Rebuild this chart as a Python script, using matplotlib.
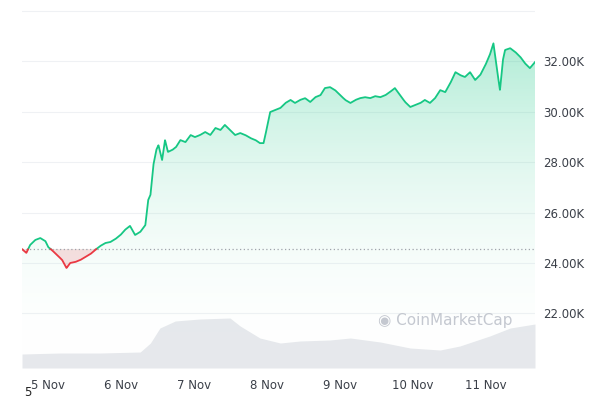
import matplotlib
matplotlib.use("Agg")
import matplotlib.pyplot as plt
import numpy as np
from matplotlib.colors import LinearSegmentedColormap

days = [4.64,4.70,4.75,4.82,4.89,4.96,5.00,5.05,5.12,5.19,5.25,5.30,5.37,5.44,5.51,5.58,5.64,5.71,5.78,5.85,5.92,5.99,6.05,6.12,6.19,6.26,6.33,6.37,6.40,6.44,6.48,6.51,6.56,6.60,6.64,6.70,6.75,6.81,6.88,6.95,7.01,7.08,7.15,7.22,7.29,7.36,7.42,7.49,7.56,7.63,7.70,7.77,7.84,7.90,7.95,7.99,8.04,8.11,8.18,8.25,8.32,8.38,8.45,8.52,8.59,8.66,8.73,8.79,8.86,8.93,9.00,9.07,9.14,9.21,9.27,9.34,9.41,9.48,9.55,9.62,9.68,9.75,9.82,9.89,9.96,10.03,10.10,10.16,10.23,10.30,10.37,10.44,10.51,10.58,10.64,10.71,10.78,10.85,10.92,10.99,11.05,11.10,11.15,11.19,11.23,11.26,11.33,11.40,11.47,11.53,11.60,11.67]
price = [24.55,24.40,24.71,24.91,24.99,24.87,24.63,24.51,24.32,24.12,23.80,24.00,24.04,24.12,24.24,24.36,24.51,24.67,24.79,24.83,24.95,25.11,25.31,25.47,25.11,25.23,25.50,26.50,26.69,27.88,28.48,28.67,28.08,28.87,28.40,28.48,28.59,28.87,28.79,29.07,28.99,29.07,29.19,29.07,29.35,29.27,29.47,29.27,29.07,29.15,29.07,28.95,28.87,28.75,28.75,29.27,29.98,30.06,30.14,30.34,30.46,30.34,30.46,30.53,30.38,30.57,30.65,30.93,30.97,30.85,30.65,30.46,30.34,30.46,30.53,30.57,30.53,30.61,30.57,30.65,30.77,30.93,30.65,30.38,30.18,30.26,30.34,30.46,30.34,30.53,30.85,30.77,31.13,31.56,31.45,31.37,31.56,31.25,31.45,31.84,32.24,32.71,31.64,30.85,32.04,32.44,32.51,32.36,32.16,31.92,31.72,31.96]
base_price = 24.55
vol_days = [4.64,5.16,5.71,6.26,6.40,6.53,6.74,7.08,7.49,7.63,7.90,8.18,8.45,8.86,9.14,9.55,9.96,10.37,10.64,11.05,11.33,11.67]
volume = [14,15,15,16,25,40,47,49,50,42,30,25,27,28,30,26,20,18,22,32,40,44]
tick_days = [5,6,7,8,9,10,11]
tick_labels = ["5 Nov","6 Nov","7 Nov","8 Nov","9 Nov","10 Nov","11 Nov"]
ytick_vals = [22,24,26,28,30,32]

fig = plt.figure(figsize=(6,4), dpi=100)
ax = fig.add_axes([22/600, 32/400, 513/600, 368/400])
ymin, ymax = 19.84, 34.42
ax.set_xlim(days[0], days[-1]); ax.set_ylim(ymin, ymax)

axv = ax.twinx()
axv.set_ylim(0, 368)
axv.fill_between(vol_days, 0, volume, color="#e6e8ec", lw=0)
axv.axis("off")
ax.set_zorder(axv.get_zorder()+1); ax.patch.set_visible(False)

for v in ytick_vals + [34]:
    ax.axhline(v, color="#eff1f4", lw=0.8, zorder=0)

t = np.array(days); p = np.array(price)
td = np.linspace(t[0], t[-1], 3000); pd_ = np.interp(td, t, p)
above = pd_ >= base_price
grad = LinearSegmentedColormap.from_list("g", [(1,1,1,0), (0.09,0.78,0.52,0.35)])
img = ax.imshow(np.linspace(0,1,256).reshape(-1,1), cmap=grad, aspect="auto",
                extent=[t[0], t[-1], ymin, 33], origin="lower", zorder=1)
poly = ax.fill_between(td, ymin, np.where(above, pd_, base_price), color="none", lw=0)
img.set_clip_path(poly.get_paths()[0], transform=ax.transData)
ax.fill_between(td, pd_, base_price, where=~above, color="#ea3943", alpha=0.15, lw=0, zorder=2)
ax.plot(td, np.where(above, pd_, np.nan), color="#16c784", lw=1.3, zorder=3)
ax.plot(td, np.where(~above, pd_, np.nan), color="#ea3943", lw=1.3, zorder=3)
ax.axhline(base_price, color="#a0a4ab", lw=0.9, ls=(0,(1,2)), zorder=2)

for s in ax.spines.values(): s.set_visible(False)
ax.yaxis.tick_right()
ax.set_yticks(ytick_vals)
ax.set_yticklabels([f"{v:.2f}K" for v in ytick_vals], color="#3a3f48", fontsize=8.5)
ax.set_xticks(tick_days); ax.set_xticklabels(tick_labels, color="#3a3f48", fontsize=8.5)
ax.tick_params(length=0, pad=6)
ax.tick_params(axis="x", pad=8)

fig.text(378/600, 1-320/400, "◉ CoinMarketCap", color="#c4c8d0", fontsize=11, va="center")
fig.text(24/600, 1-393/400, "5", fontsize=8.5, color="#222", va="center")
fig.savefig("out.png", dpi=100)
